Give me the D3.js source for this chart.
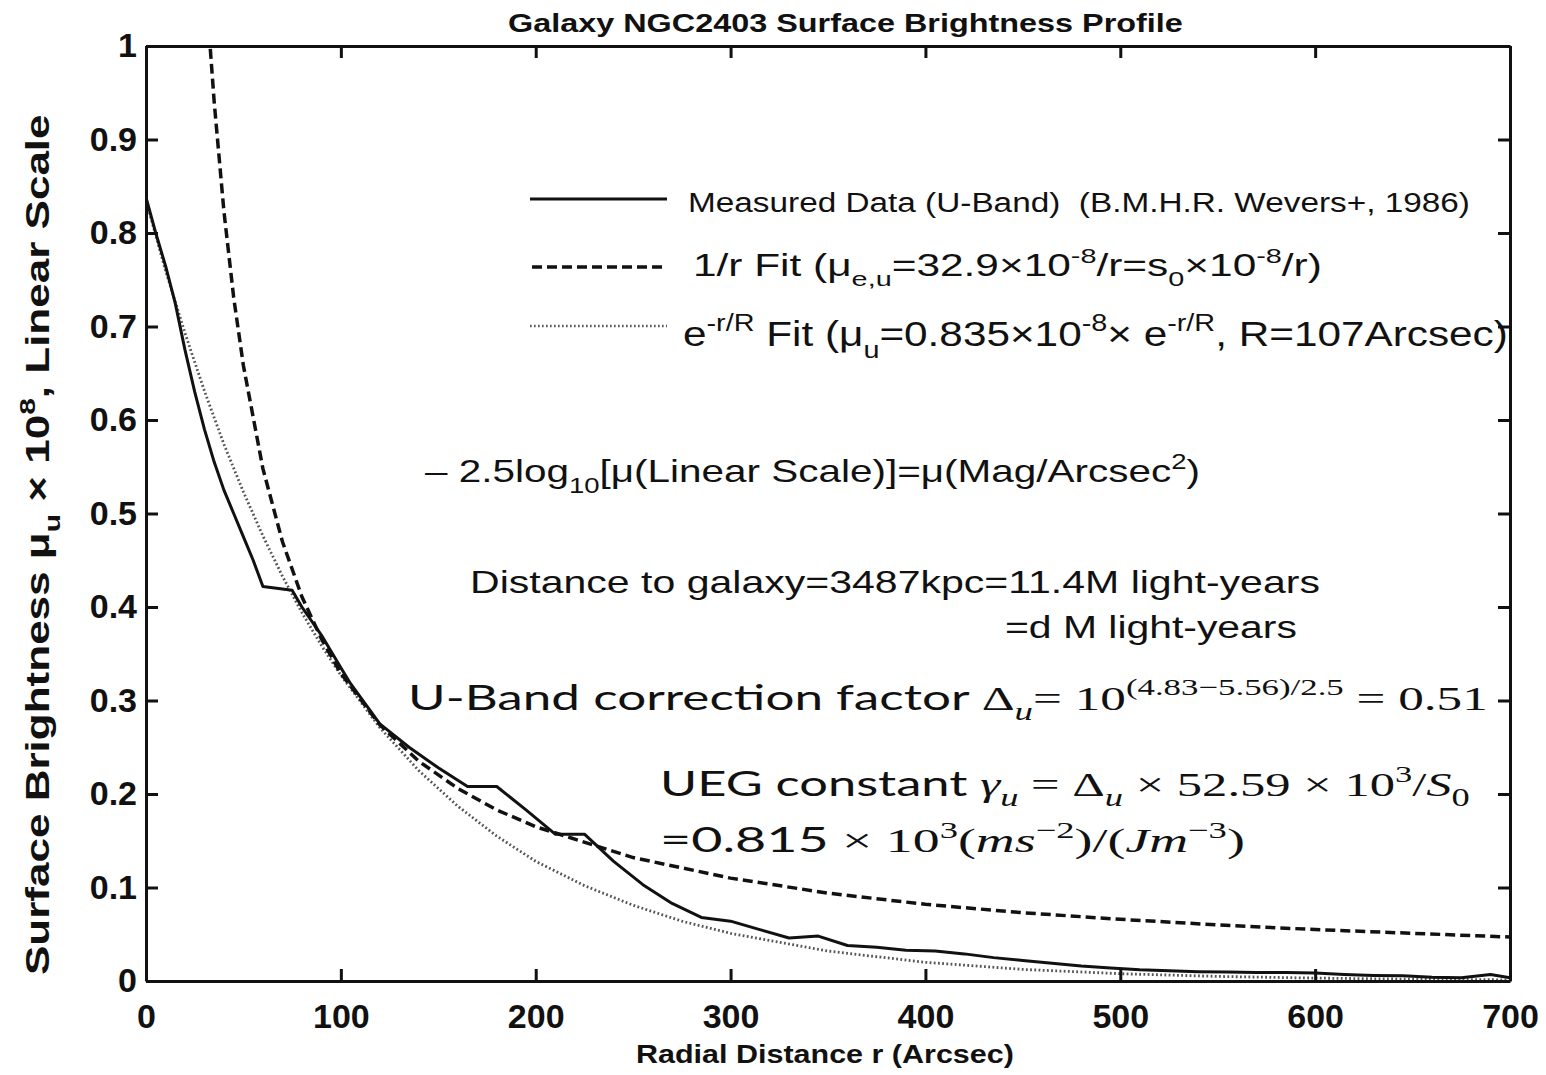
<!DOCTYPE html>
<html>
<head>
<meta charset="utf-8">
<script src="https://cdn.jsdelivr.net/npm/d3@7"></script>
<style>
  body { margin: 0; background: #fff; }
  text { white-space: pre; }
</style>
</head>
<body>
<svg width="1546" height="1075"></svg>
<script>
// Galaxy NGC2403 surface brightness
var xTicks = [0, 100, 200, 300, 400, 500, 600, 700]
var yTicks = [0, 0.1, 0.2, 0.3, 0.4, 0.5, 0.6, 0.7, 0.8, 0.9, 1]
var yTickLabels = ['0', '0.1', '0.2', '0.3', '0.4', '0.5', '0.6', '0.7', '0.8', '0.9', '1']

// measured U-band data (solid)
var measuredR = [0, 5, 10, 15, 20, 25, 30, 35, 40, 45, 50, 55, 60, 75, 80, 90, 100, 105, 120, 135, 150, 165, 180, 195, 210, 225, 240, 255, 270, 285, 300, 315, 330, 345, 360, 375, 390, 405, 420, 435, 450, 465, 480, 495, 510, 525, 540, 555, 570, 585, 600, 615, 630, 645, 660, 675, 690, 700]
var measuredMu = [0.838, 0.80, 0.765, 0.725, 0.675, 0.63, 0.59, 0.555, 0.525, 0.50, 0.475, 0.45, 0.422, 0.418, 0.40, 0.37, 0.335, 0.318, 0.275, 0.25, 0.228, 0.208, 0.208, 0.183, 0.157, 0.157, 0.128, 0.103, 0.083, 0.068, 0.064, 0.055, 0.046, 0.048, 0.038, 0.036, 0.033, 0.032, 0.029, 0.025, 0.022, 0.019, 0.016, 0.014, 0.012, 0.011, 0.010, 0.0095, 0.009, 0.009, 0.0085, 0.007, 0.006, 0.0055, 0.004, 0.0035, 0.007, 0.0035]

// 1/r fit (dashed)
var invR = [33, 35, 40, 45, 50, 60, 70, 80, 90, 100, 120, 140, 160, 180, 200, 250, 300, 350, 400, 450, 500, 550, 600, 650, 700]
var invMu = [0.997, 0.94, 0.823, 0.731, 0.658, 0.548, 0.47, 0.411, 0.366, 0.329, 0.274, 0.235, 0.206, 0.183, 0.165, 0.132, 0.110, 0.094, 0.082, 0.073, 0.066, 0.060, 0.055, 0.051, 0.047]

// exponential fit (dotted)
var expR = [0, 10, 20, 30, 40, 50, 60, 70, 80, 90, 100, 120, 140, 160, 180, 200, 225, 250, 275, 300, 350, 400, 450, 500, 550, 600, 650, 700]
var expMu = [0.835, 0.760, 0.693, 0.631, 0.574, 0.523, 0.476, 0.433, 0.394, 0.359, 0.327, 0.271, 0.225, 0.187, 0.155, 0.128, 0.102, 0.081, 0.064, 0.051, 0.032, 0.020, 0.0124, 0.0078, 0.0049, 0.0031, 0.0019, 0.0012]

var plotL = 146, plotR = 1510, plotT = 46, plotB = 981
var ink = '#111'
var sans = '"Liberation Sans", Arial, sans-serif'
var calib = 'Lato, "Open Sans", sans-serif'
var serif = '"Liberation Serif", "DejaVu Serif", serif'

var svg = d3.select('svg')

var xScale = d3.scaleLinear().domain([0, 700]).range([plotL, plotR])
var yScale = d3.scaleLinear().domain([0, 1]).range([plotB, plotT])

svg.append('clipPath').attr('id', 'plot')
  .append('rect')
    .attr('x', plotL).attr('y', plotT)
    .attr('width', plotR - plotL).attr('height', plotB - plotT)

var line = d3.line()
  .x(d => xScale(d[0]))
  .y(d => yScale(d[1]))

var zip = (a, b) => a.map((v, i) => [v, b[i]])

var curves = svg.append('g').attr('clip-path', 'url(#plot)')

curves.append('path')
  .datum(zip(expR, expMu))
  .attr('d', line)
  .attr('fill', 'none')
  .attr('stroke', '#555')
  .attr('stroke-width', 2.8)
  .attr('stroke-dasharray', '1.8,2.4')

curves.append('path')
  .datum(zip(invR, invMu))
  .attr('d', line)
  .attr('fill', 'none')
  .attr('stroke', ink)
  .attr('stroke-width', 3.5)
  .attr('stroke-dasharray', '10,5')

curves.append('path')
  .datum(zip(measuredR, measuredMu))
  .attr('d', line)
  .attr('fill', 'none')
  .attr('stroke', ink)
  .attr('stroke-width', 3)
  .attr('stroke-linejoin', 'round')

// axes, MATLAB-style box with inward ticks
function styleAxis(g) {
  g.selectAll('path, line').attr('stroke', ink).attr('stroke-width', 3)
  g.selectAll('text')
    .attr('fill', ink)
    .attr('font-family', sans)
    .attr('font-weight', 'bold')
    .attr('font-size', 34)
}

svg.append('g')
  .attr('transform', 'translate(0,' + plotB + ')')
  .call(d3.axisBottom(xScale).tickValues(xTicks).tickSize(-12).tickSizeOuter(0).tickPadding(23))
  .call(styleAxis)

svg.append('g')
  .attr('transform', 'translate(' + plotL + ',0)')
  .call(d3.axisLeft(yScale).tickValues(yTicks).tickSize(-12).tickSizeOuter(0).tickPadding(9)
          .tickFormat((d, i) => yTickLabels[i]))
  .call(styleAxis)

svg.append('g')
  .attr('transform', 'translate(0,' + plotT + ')')
  .call(d3.axisTop(xScale).tickValues(xTicks).tickSize(-12).tickSizeOuter(0).tickFormat(''))
  .call(styleAxis)

svg.append('g')
  .attr('transform', 'translate(' + plotR + ',0)')
  .call(d3.axisRight(yScale).tickValues(yTicks).tickSize(-12).tickSizeOuter(0).tickFormat(''))
  .call(styleAxis)

// text helpers
function rich(parent, size, family, weight, parts) {
  var t = parent.append('text')
    .attr('font-size', size)
    .attr('font-family', family)
    .attr('font-weight', weight)
    .attr('fill', ink)
  var cur = 0
  parts.forEach(p => {
    var o = typeof p === 'string' ? { t: p } : p
    var sh = (o.sh || 0) * size
    var ts = t.append('tspan').text(o.t).attr('dy', sh - cur)
    cur = sh
    if (o.s) ts.attr('font-size', size * o.s)
    if (o.f) ts.attr('font-family', o.f)
    if (o.i) ts.attr('font-style', 'italic')
  })
  return t
}

// squeeze or stretch a text so it spans x0..x1 with baseline y
function fit(t, x0, x1, y) {
  var bb = t.node().getBBox()
  var sx = (x1 - x0) / bb.width
  t.attr('transform', 'translate(' + (x0 - bb.x * sx) + ',' + y + ') scale(' + sx + ',1)')
}

var sub = s => ({ t: s, s: 0.68, sh: 0.33 })
var sup = s => ({ t: s, s: 0.68, sh: -0.42 })

// title and axis labels
fit(rich(svg, 26, sans, 'bold', ['Galaxy NGC2403 Surface Brightness Profile']), 508, 1183, 32)
fit(rich(svg, 26, sans, 'bold', ['Radial Distance r (Arcsec)']), 636, 1014, 1063)

var ylab = rich(svg, 33, sans, 'bold', ['Surface Brightness ', 'μ', sub('u'), ' × 10', sup('8'), ', Linear Scale'])
var yb = ylab.node().getBBox()
var ysx = (975 - 114) / yb.width
ylab.attr('transform', 'translate(49,975) rotate(-90) scale(' + ysx + ',1) translate(' + (-yb.x) + ',0)')

// legend
var legend = svg.append('g')
legend.append('line').attr('x1', 530).attr('x2', 667).attr('y1', 199).attr('y2', 199)
  .attr('stroke', ink).attr('stroke-width', 3)
legend.append('line').attr('x1', 532).attr('x2', 667).attr('y1', 267).attr('y2', 267)
  .attr('stroke', ink).attr('stroke-width', 3.5).attr('stroke-dasharray', '10,5')
legend.append('line').attr('x1', 530).attr('x2', 667).attr('y1', 326).attr('y2', 326)
  .attr('stroke', '#555').attr('stroke-width', 2.6).attr('stroke-dasharray', '1.6,2.4')

fit(rich(legend, 27, sans, 'normal', ['Measured Data (U-Band)  (B.M.H.R. Wevers+, 1986)']), 688, 1470, 212)
fit(rich(legend, 31, sans, 'normal',
  ['1/r Fit (μ', sub('e,u'), '=32.9×10', sup('-8'), '/r=s', sub('0'), '×10', sup('-8'), '/r)']), 693, 1322, 276)
fit(rich(legend, 36, sans, 'normal',
  ['e', sup('-r/R'), ' Fit (μ', sub('u'), '=0.835×10', sup('-8'), '× e', sup('-r/R'), ', R=107Arcsec)']), 683, 1508, 346)

// annotations
var notes = svg.append('g')
fit(rich(notes, 32, sans, 'normal',
  ['– 2.5log', sub('10'), '[μ(Linear Scale)]=μ(Mag/Arcsec', sup('2'), ')']), 425, 1200, 482)
fit(rich(notes, 31, sans, 'normal', ['Distance to galaxy=3487kpc=11.4M light-years']), 470, 1320, 593)
fit(rich(notes, 31, sans, 'normal', ['=d M light-years']), 1005, 1297, 638)

fit(rich(notes, 34, calib, 'normal', [
  'U-Band correction factor ',
  { t: 'Δ', f: serif },
  { t: 'u', f: serif, i: 1, s: 0.72, sh: 0.3 },
  { t: '= 10', f: serif },
  { t: '(4.83−5.56)/2.5', f: serif, s: 0.68, sh: -0.45 },
  { t: ' = 0.51', f: serif }
]), 408, 1488, 710)

fit(rich(notes, 34, calib, 'normal', [
  'UEG constant ',
  { t: 'γ', f: serif, i: 1 },
  { t: 'u', f: serif, i: 1, s: 0.72, sh: 0.3 },
  { t: ' = Δ', f: serif },
  { t: 'u', f: serif, i: 1, s: 0.72, sh: 0.3 },
  { t: ' × 52.59 × 10', f: serif },
  { t: '3', f: serif, s: 0.68, sh: -0.42 },
  { t: '/', f: serif },
  { t: 'S', f: serif, i: 1 },
  { t: '0', f: serif, s: 0.72, sh: 0.3 }
]), 660, 1470, 796)

fit(rich(notes, 34, calib, 'normal', [
  '=0.815',
  { t: ' × 10', f: serif },
  { t: '3', f: serif, s: 0.68, sh: -0.42 },
  { t: '(', f: serif },
  { t: 'ms', f: serif, i: 1 },
  { t: '−2', f: serif, s: 0.68, sh: -0.42 },
  { t: ')/(', f: serif },
  { t: 'Jm', f: serif, i: 1 },
  { t: '−3', f: serif, s: 0.68, sh: -0.42 },
  { t: ')', f: serif }
]), 660, 1245, 852)
</script>
</body>
</html>
